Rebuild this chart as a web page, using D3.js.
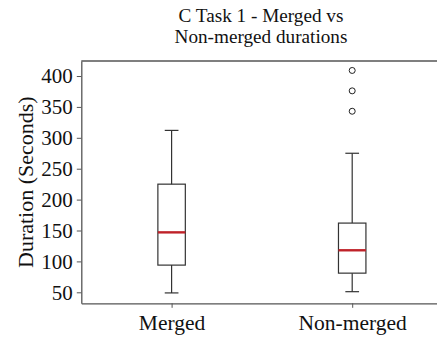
<!DOCTYPE html>
<html>
<head>
<meta charset="utf-8">
<script src="https://cdn.jsdelivr.net/npm/d3@7"></script>
<style>
  body { margin: 0; background: #fff; }
  svg { display: block; }
  svg text { font-family: "Liberation Serif", "Times New Roman", serif; }
</style>
</head>
<body>
<svg id="chart" width="437" height="337"></svg>
<script>
// data
const categories = ["Merged", "Non-merged"];
const whiskerLow = [49, 51];
const q1 = [94, 81];
const medians = [147, 118];
const q3 = [225, 162];
const whiskerHigh = [312, 275];
const outliers = [[], [343, 376, 409]];
const yTicks = [50, 100, 150, 200, 250, 300, 350, 400];
const titleLines = ["C Task 1 - Merged vs", "Non-merged durations"];
const yLabel = "Duration (Seconds)";

const width = 437, height = 337;
const margin = { left: 81.3, top: 61, bottom: 33.7 };
const plotRight = 442.5; // axes run past the picture edge

const svg = d3.select("#chart");

const x = d3.scaleLinear().domain([0.5, categories.length + 0.5]).range([margin.left, plotRight]);
const y = d3.scaleLinear().domain([32.2, 424.3]).range([height - margin.bottom, margin.top]);

const boxW = 0.152;   // in x units
const capW = boxW / 2;
const lineColor = "#333";

const groups = categories.map((c, i) => ({
    name: c, pos: i + 1,
    lo: whiskerLow[i], q1: q1[i], med: medians[i], q3: q3[i], hi: whiskerHigh[i],
    fliers: outliers[i]
}));

// top spine
svg.append("line")
    .attr("x1", margin.left).attr("x2", plotRight)
    .attr("y1", y.range()[1]).attr("y2", y.range()[1])
    .attr("stroke", "#555").attr("stroke-width", 1.3);

// y axis
const yAxis = svg.append("g")
    .attr("transform", `translate(${margin.left},0)`)
    .call(d3.axisLeft(y).tickValues(yTicks).tickSize(4.5).tickPadding(4).tickSizeOuter(0))
    .attr("font-family", null).attr("font-size", null);
yAxis.select(".domain").attr("stroke", "#555").attr("stroke-width", 1.3);
yAxis.selectAll(".tick line").attr("stroke", "#555").attr("stroke-width", 1);
yAxis.selectAll(".tick text")
    .style("font-size", "21px").attr("fill", "#111");

// x axis
const xAxis = svg.append("g")
    .attr("transform", `translate(0,${y.range()[0]})`)
    .call(d3.axisBottom(x).tickValues(groups.map(g => g.pos))
        .tickFormat((d, i) => categories[i]).tickSize(4.5).tickPadding(7).tickSizeOuter(0))
    .attr("font-family", null).attr("font-size", null);
xAxis.select(".domain").attr("stroke", "#555").attr("stroke-width", 1.3);
xAxis.selectAll(".tick line").attr("stroke", "#555").attr("stroke-width", 1);
xAxis.selectAll(".tick text")
    .style("font-size", "21.5px").attr("fill", "#111");

// boxes
const box = svg.append("g").selectAll("g.box")
    .data(groups)
    .join("g")
    .attr("class", "box");

box.append("line") // lower whisker
    .attr("x1", d => x(d.pos)).attr("x2", d => x(d.pos))
    .attr("y1", d => y(d.lo)).attr("y2", d => y(d.q1))
    .attr("stroke", lineColor).attr("stroke-width", 1.2);
box.append("line") // upper whisker
    .attr("x1", d => x(d.pos)).attr("x2", d => x(d.pos))
    .attr("y1", d => y(d.q3)).attr("y2", d => y(d.hi))
    .attr("stroke", lineColor).attr("stroke-width", 1.2);
box.selectAll("line.cap")
    .data(d => [{ pos: d.pos, v: d.lo }, { pos: d.pos, v: d.hi }])
    .join("line")
    .attr("class", "cap")
    .attr("x1", d => x(d.pos - capW / 2)).attr("x2", d => x(d.pos + capW / 2))
    .attr("y1", d => y(d.v)).attr("y2", d => y(d.v))
    .attr("stroke", lineColor).attr("stroke-width", 1.2);
box.append("rect")
    .attr("x", d => x(d.pos - boxW / 2))
    .attr("width", x(1 + boxW) - x(1))
    .attr("y", d => y(d.q3))
    .attr("height", d => y(d.q1) - y(d.q3))
    .attr("fill", "none")
    .attr("stroke", lineColor).attr("stroke-width", 1.2);
box.append("line") // median
    .attr("x1", d => x(d.pos - boxW / 2)).attr("x2", d => x(d.pos + boxW / 2))
    .attr("y1", d => y(d.med)).attr("y2", d => y(d.med))
    .attr("stroke", "#bf2229").attr("stroke-width", 2.4);
box.selectAll("circle")
    .data(d => d.fliers.map(v => ({ pos: d.pos, v })))
    .join("circle")
    .attr("cx", d => x(d.pos)).attr("cy", d => y(d.v))
    .attr("r", 3)
    .attr("fill", "none")
    .attr("stroke", "#222").attr("stroke-width", 1);

// title
svg.append("text")
    .attr("x", 261).attr("y", 22)
    .attr("text-anchor", "middle")
    .style("font-size", "19.2px").attr("fill", "#111")
    .selectAll("tspan")
    .data(titleLines)
    .join("tspan")
    .attr("x", 261)
    .attr("dy", (d, i) => i === 0 ? 0 : 21)
    .text(d => d);

// y label
svg.append("text")
    .attr("transform", `translate(33,${(y.range()[0] + y.range()[1]) / 2}) rotate(-90)`)
    .attr("text-anchor", "middle")
    .style("font-size", "22px").attr("fill", "#111")
    .text(yLabel);
</script>
</body>
</html>
